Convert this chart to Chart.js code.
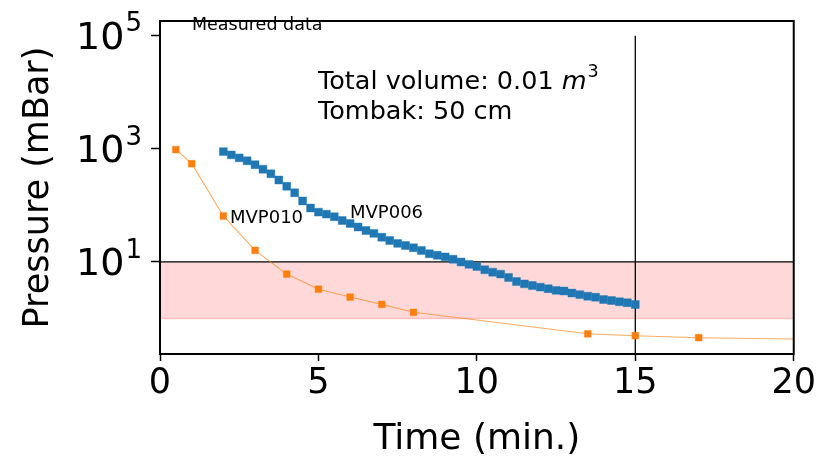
<!DOCTYPE html>
<html>
<head>
<meta charset="utf-8">
<script src="https://cdn.jsdelivr.net/npm/chart.js@4.4.1/dist/chart.umd.min.js"></script>
<style>
  html, body { margin: 0; padding: 0; background: #fff; }
  #wrap { width: 818px; height: 461px; position: relative; }
</style>
</head>
<body>
<div id="wrap"><canvas id="c" width="818" height="461"></canvas></div>
<script>
// ---- data ----
const mvp006Time = [2.0,2.25,2.5,2.75,3.0,3.25,3.5,3.75,4.0,4.25,4.5,4.75,
  5.0,5.25,5.5,5.75,6.0,6.25,6.5,6.75,7.0,7.25,7.5,7.75,
  8.0,8.25,8.5,8.75,9.0,9.25,9.5,9.75,10.0,10.25,10.5,10.75,
  11.0,11.25,11.5,11.75,12.0,12.25,12.5,12.75,13.0,13.25,13.5,13.75,
  14.0,14.25,14.5,14.75,15.0];
const mvp006Pressure = [893,781,693,615,525,437,362,281,218,167,120,90,
  76,70,63,54,48,41.5,36,32,27.4,24,21.3,19.5,
  17.8,16.0,14.0,13.1,12.3,11.2,10.0,9.06,8.3,7.3,6.6,6.1,
  5.3,4.5,4.1,3.84,3.59,3.37,3.15,3.06,2.82,2.65,2.48,2.38,
  2.17,2.08,1.98,1.90,1.77];

const mvp010Time = [0.5,1,2,3,4,5,6,7,8,13.5,15,17];
const mvp010Pressure = [970,546,65,16,6.1,3.3,2.4,1.78,1.29,0.537,0.497,0.458];
const mvp010LineTime = [0.5,1,2,3,4,5,6,7,8,13.5,15,17,20];
const mvp010LinePressure = [970,546,65,16,6.1,3.3,2.4,1.78,1.29,0.537,0.497,0.458,0.435];

const bandTime = [0, 20];
const bandLow = [1, 1];
const bandHigh = [10, 10];
const cutTime = [15, 15];
const cutPressure = [1e5, 0.236];

const xTicks = [0, 5, 10, 15, 20];
const yTicks = [10, 1000, 100000];
const yMin = 0.236, yMax = 1.82e5;

const labelMvp010 = 'MVP010';
const labelMvp006 = 'MVP006';
const noteMeasured = 'Measured data';
const noteVolume = 'Total volume: 0.01 ';
const noteTombak = 'Tombak: 50 cm';

const pts = (xs, ys) => xs.map((x, i) => ({x: x, y: ys[i]}));

const FONT = '"DejaVu Sans", sans-serif';

const overlay = {
  id: 'overlay',
  afterDraw(chart) {
    const ctx = chart.ctx;
    const a = chart.chartArea;
    const ys = chart.scales.y;
    ctx.save();
    // frame
    ctx.strokeStyle = '#000';
    ctx.lineWidth = 2;
    ctx.strokeRect(a.left, a.top, a.right - a.left, a.bottom - a.top);
    // y tick labels with superscript
    ctx.fillStyle = '#000';
    ctx.textBaseline = 'middle';
    yTicks.forEach(v => {
      const py = ys.getPixelForValue(v);
      const exp = String(Math.round(Math.log10(v)));
      ctx.font = '26px ' + FONT;
      const ew = ctx.measureText(exp).width;
      const right = a.left - 18;
      ctx.textAlign = 'left';
      ctx.fillText(exp, right - ew, py - 11);
      ctx.font = '38px ' + FONT;
      ctx.textAlign = 'right';
      ctx.fillText('10', right - ew - 1, py + 3);
    });
    // notes
    ctx.textAlign = 'left';
    ctx.font = '17.5px ' + FONT;
    ctx.fillText(noteMeasured, 192, 25);
    ctx.font = '25.5px ' + FONT;
    ctx.fillText(noteVolume, 318, 82);
    let w = ctx.measureText(noteVolume).width;
    ctx.font = 'italic 25.5px ' + FONT;
    ctx.fillText('m', 318 + w, 82);
    let w2 = ctx.measureText('m').width;
    ctx.font = '17.5px ' + FONT;
    ctx.fillText('3', 318 + w + w2 + 1, 72);
    ctx.font = '25.5px ' + FONT;
    ctx.fillText(noteTombak, 318, 112);
    ctx.font = '18px ' + FONT;
    ctx.fillText(labelMvp010, 230, 218);
    ctx.fillText(labelMvp006, 350, 213);
    ctx.restore();
  }
};

new Chart(document.getElementById('c'), {
  type: 'scatter',
  data: {
    datasets: [
      {
        label: labelMvp006,
        data: pts(mvp006Time, mvp006Pressure),
        showLine: false,
        pointStyle: 'rect',
        pointRadius: 5.6,
        backgroundColor: '#1f77b4',
        borderColor: 'rgba(31,119,180,0.5)',
        borderWidth: 0.8,
        order: 0
      },
      {
        label: labelMvp010,
        data: pts(mvp010Time, mvp010Pressure),
        showLine: false,
        pointStyle: 'rect',
        pointRadius: 4.8,
        backgroundColor: '#ff7f0e',
        borderColor: 'rgba(255,127,14,0.5)',
        borderWidth: 0.8,
        order: 1
      },
      {
        label: 'MVP010 line',
        data: pts(mvp010LineTime, mvp010LinePressure),
        showLine: true,
        pointRadius: 0,
        borderColor: 'rgba(255,127,14,0.65)',
        borderWidth: 1.1,
        tension: 0,
        order: 2
      },
      {
        label: 'cut',
        data: pts(cutTime, cutPressure),
        showLine: true,
        pointRadius: 0,
        borderColor: '#000',
        borderWidth: 1.3,
        order: 3
      },
      {
        label: 'band low',
        data: pts(bandTime, bandLow),
        showLine: true,
        pointRadius: 0,
        borderColor: 'rgba(255,0,0,0.2)',
        borderWidth: 1.5,
        fill: false,
        order: 5
      },
      {
        label: 'band high',
        data: pts(bandTime, bandHigh),
        showLine: true,
        pointRadius: 0,
        borderColor: '#000',
        borderWidth: 1.3,
        backgroundColor: 'rgba(255,0,0,0.15)',
        fill: '-1',
        order: 4
      }
    ]
  },
  options: {
    responsive: false,
    animation: false,
    events: [],
    layout: { padding: { left: 0, top: 14, right: 24, bottom: 0 } },
    plugins: { legend: { display: false }, tooltip: { enabled: false }, filler: { propagate: false } },
    scales: {
      x: {
        type: 'linear',
        min: 0, max: 20,
        afterBuildTicks: s => { s.ticks = xTicks.map(v => ({value: v})); },
        afterFit: s => { s.height = 107; },
        grid: { display: true, drawOnChartArea: false, drawTicks: true, tickLength: 7, tickWidth: 1.5, tickColor: '#000' },
        border: { display: true, color: '#000', width: 2 },
        ticks: { color: '#000', font: { family: FONT, size: 35 }, padding: 2, maxRotation: 0 },
        title: { display: true, text: 'Time (min.)', color: '#000', font: { family: FONT, size: 36 }, padding: { top: 0, bottom: 0 } }
      },
      y: {
        type: 'logarithmic',
        min: yMin, max: yMax,
        afterBuildTicks: s => { s.ticks = yTicks.map(v => ({value: v})); },
        afterFit: s => { s.width = 160; },
        grid: { display: true, drawOnChartArea: false, drawTicks: true, tickLength: 9, tickWidth: 1.5, tickColor: '#000' },
        border: { display: true, color: '#000', width: 2 },
        ticks: { callback: () => '', font: { family: FONT, size: 30 } },
        title: { display: true, text: 'Pressure (mBar)', color: '#000', font: { family: FONT, size: 35 }, padding: { top: 18, bottom: 0 } }
      }
    }
  },
  plugins: [overlay]
});
</script>
</body>
</html>
